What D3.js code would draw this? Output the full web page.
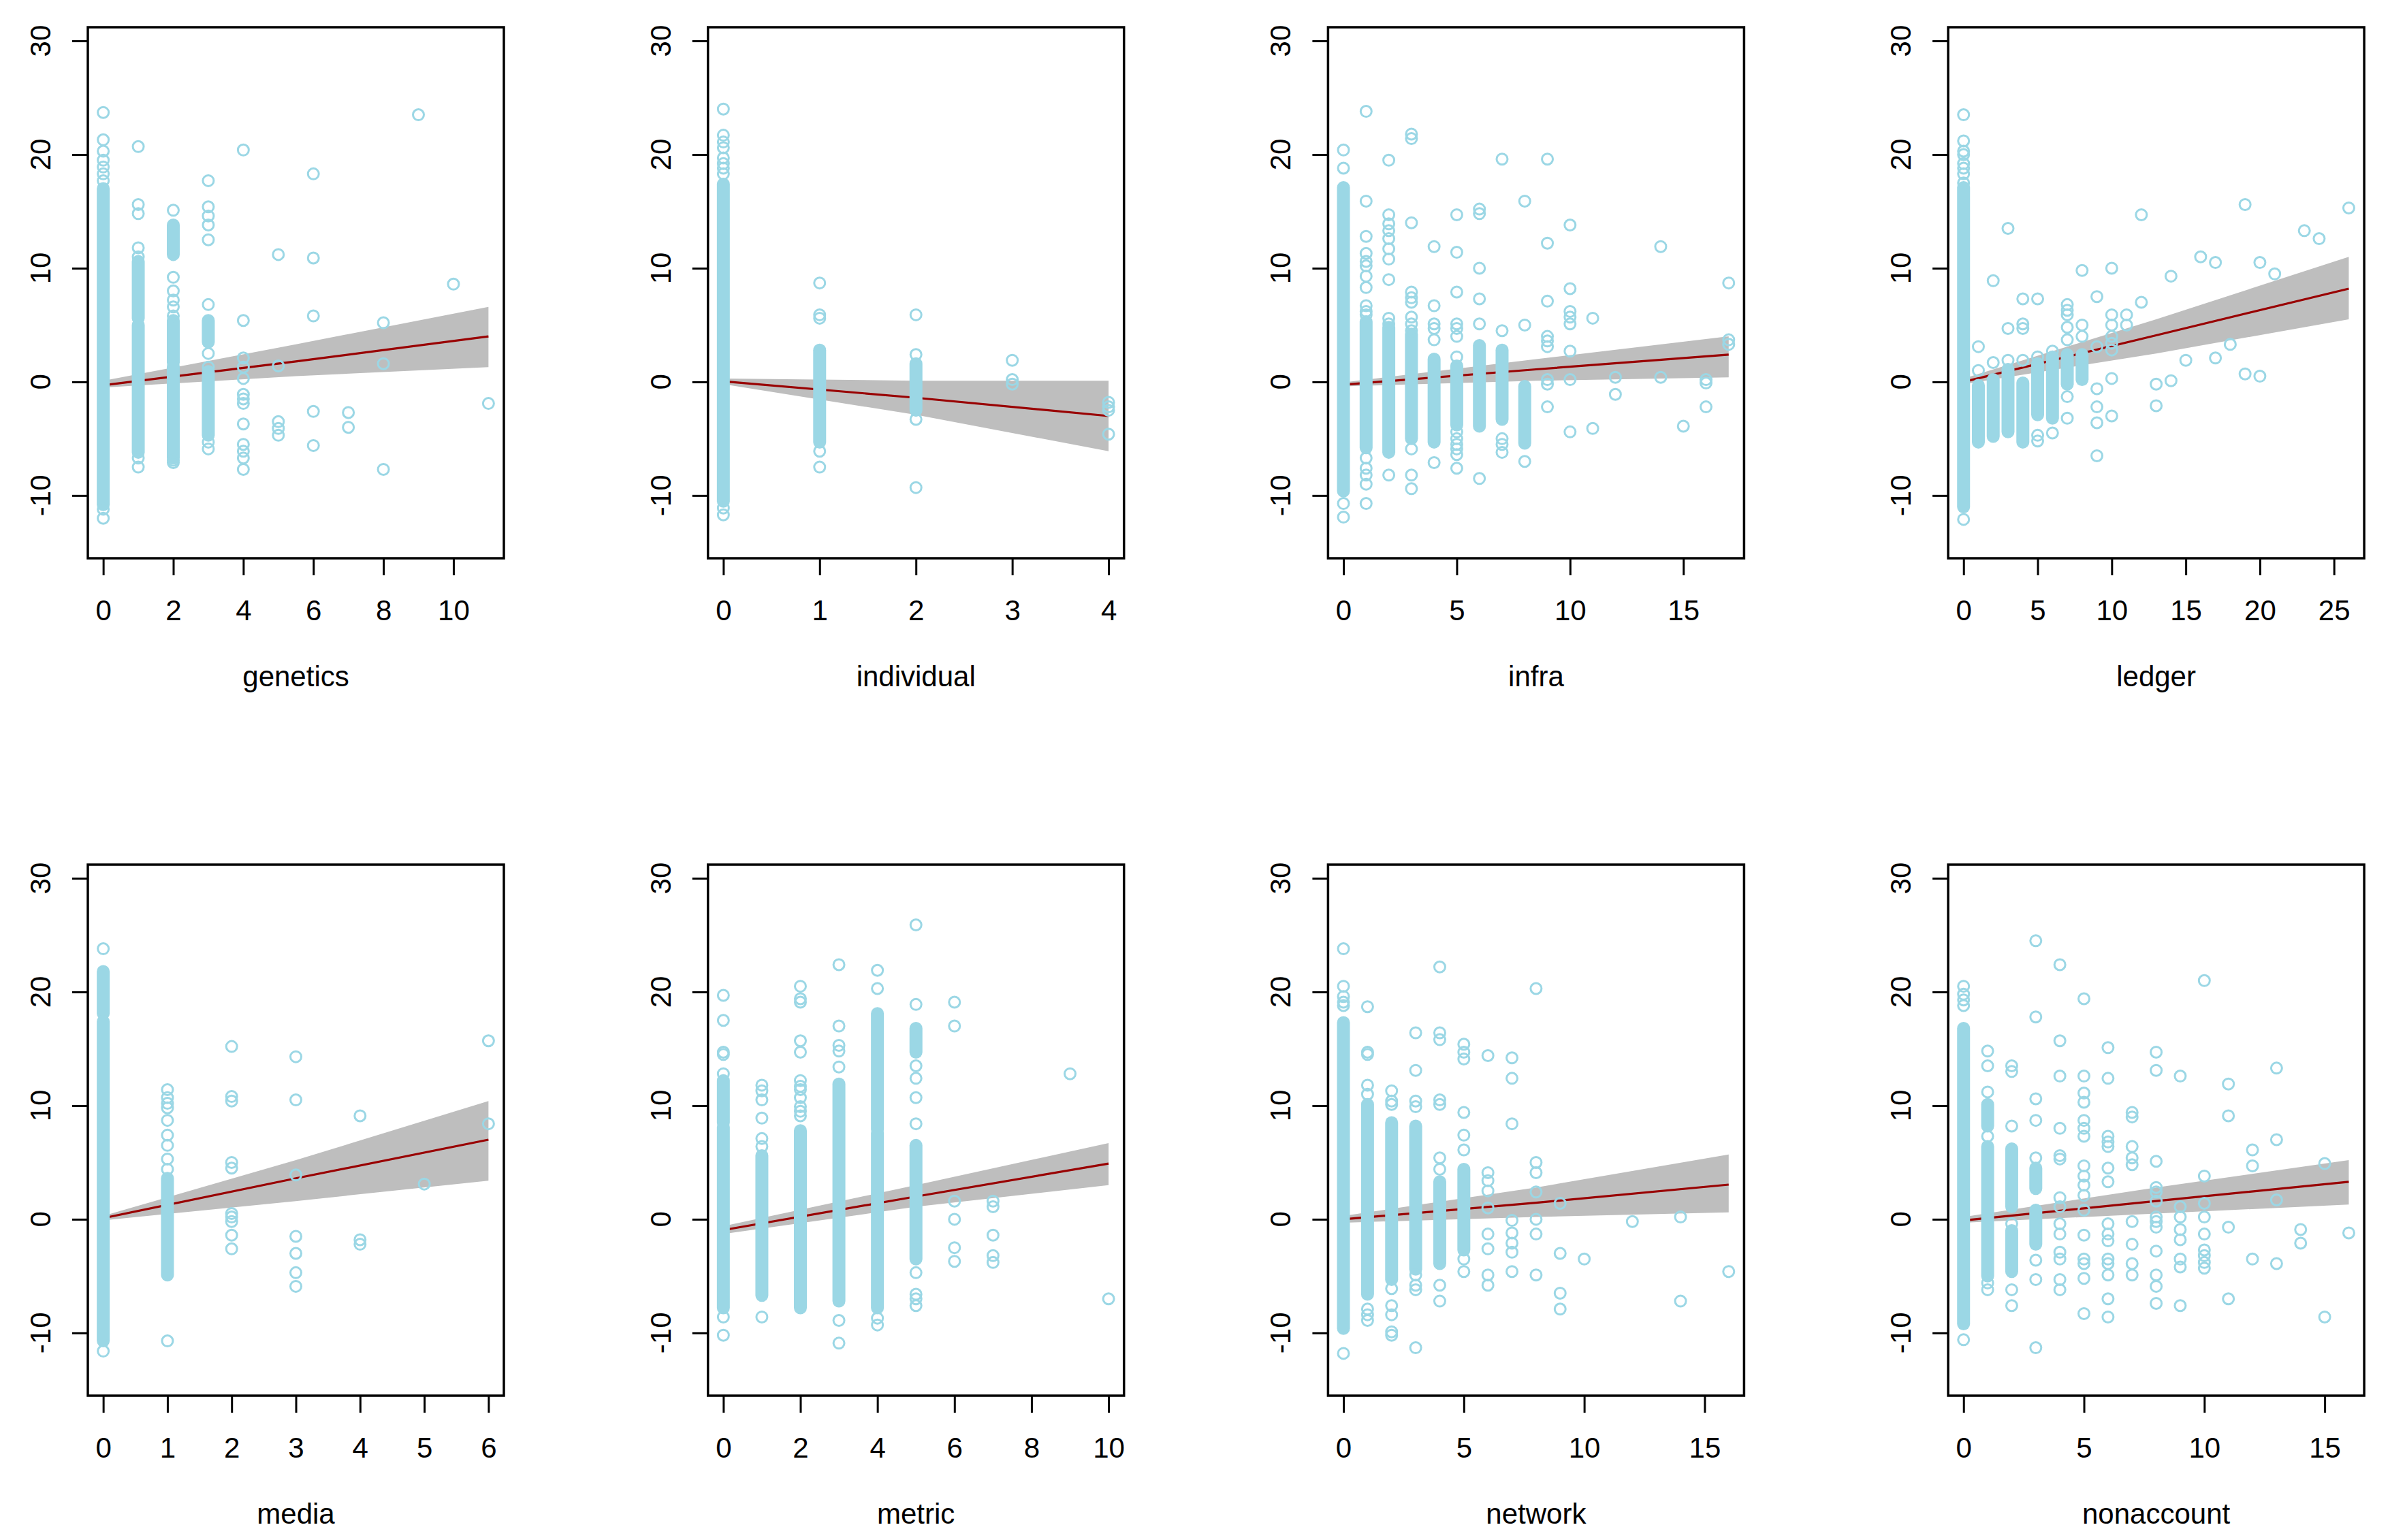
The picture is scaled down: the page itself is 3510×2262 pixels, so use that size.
<!DOCTYPE html>
<html>
<head>
<meta charset="utf-8">
<script src="https://cdn.jsdelivr.net/npm/d3@7"></script>
<style>
  body { margin: 0; background: #fff; }
  text { font-family: "Liberation Sans", Arial, sans-serif; }
</style>
</head>
<body>
<svg id="chart" width="3510" height="2262"></svg>
<script>
// panel order: left to right, top row first
var panelNames = ["genetics", "individual", "infra", "ledger", "media", "metric", "network", "nonaccount"];
var xMaxes = [11, 4, 17, 26, 6, 10, 16, 16];
var xTickSets = [
  [0, 2, 4, 6, 8, 10],
  [0, 1, 2, 3, 4],
  [0, 5, 10, 15],
  [0, 5, 10, 15, 20, 25],
  [0, 1, 2, 3, 4, 5, 6],
  [0, 2, 4, 6, 8, 10],
  [0, 5, 10, 15],
  [0, 5, 10, 15]
];
var yTickVals = [-10, 0, 10, 20, 30];

// fitted line and its band, read at three x positions per panel
var fitXs  = [[0, 5.5, 11], [0, 2, 4], [0, 8.5, 17], [0, 13, 26], [0, 3, 6], [0, 5, 10], [0, 8, 16], [0, 8, 16]];
var fitYs  = [[-0.3, 1.8, 4.0], [0.05, -1.4, -3.0], [-0.25, 1.1, 2.4], [0, 4.1, 8.2], [0.1, 3.6, 7.0], [-0.95, 2.0, 4.9], [0, 1.45, 3.05], [-0.1, 1.6, 3.3]];
var fitLos = [[-0.5, 0.5, 1.3], [-0.2, -2.9, -6.1], [-0.4, 0.1, 0.4], [-0.2, 2.5, 5.5], [-0.1, 1.6, 3.4], [-1.3, 1.1, 3.0], [-0.3, 0.2, 0.6], [-0.3, 0.5, 1.3]];
var fitHis = [[0.1, 3.3, 6.6], [0.3, 0.1, 0.1], [-0.05, 2.0, 4.0], [0.3, 5.5, 11.0], [0.3, 5.2, 10.4], [-0.6, 3.0, 6.7], [0.3, 2.8, 5.7], [0.2, 2.8, 5.2]];

// stretches where the circles pile up into a solid column: [x, top y, bottom y]
var runsByPanel = [
  [[0, 17.0, -10.8], [1, 10.6, 5.6], [1, 5.0, -6.2], [2, 13.8, 11.2], [2, 5.4, 1.7], [2, 1.3, -6.7], [3, 5.4, 3.5], [3, 0.9, -4.7]],
  [[0, 17.4, -10.5], [1, 2.8, -5.3], [2, 1.6, -2.5]],
  [[0, 17.1, -9.6], [1, 5.3, -5.8], [2, 4.8, -6.2], [3, 4.2, -5.0], [4, 2.0, -5.3], [5, 1.4, -3.8], [6, 3.2, -3.9], [7, 2.8, -3.3], [8, -0.4, -5.4]],
  [[0, 17.1, -11.0], [1, -0.3, -5.3], [2, 0.2, -4.8], [3, 1.1, -4.4], [4, -0.1, -5.3], [5, 1.6, -2.9], [6, 2.2, -3.2], [7, 2.4, -0.2], [8, 2.4, 0.2]],
  [[0, 21.8, 18.1], [0, 17.4, -10.7], [1, 3.6, -4.9]],
  [[0, 12.2, 8.5], [0, 8.1, -7.8], [1, 5.6, -6.7], [2, 7.8, -7.8], [3, 11.9, -7.2], [4, 18.1, 7.9], [4, 7.6, -7.8], [5, 16.8, 14.7], [5, 6.5, -3.5]],
  [[0, 17.3, -9.6], [1, 10.1, -6.6], [2, 8.5, -5.3], [3, 8.2, -4.4], [4, 3.3, -3.9], [5, 4.4, -2.7]],
  [[0, 16.8, -9.2], [1, 10.1, 8.2], [1, 6.4, -5.0], [2, 6.2, 1.1], [2, -1.0, -4.6], [3, 4.5, 2.7], [3, 0.8, -2.2]]
];

// separate circles: [x, [y values]]
var pointsByPanel = [
  [
    [0, [23.7, 21.3, 20.3, 19.5, 18.9, 18.3, 17.7, -11.2, -12.0]],
    [1, [20.7, 15.6, 14.8, 11.8, 11.0, -6.7, -7.5]],
    [2, [15.1, 9.2, 8.0, 7.2, 6.6, 5.8, -6.9, -7.1]],
    [3, [17.7, 15.4, 14.6, 13.8, 12.5, 6.8, 2.5, 1.3, -5.3, -5.9]],
    [4, [20.4, 5.4, 2.1, 1.3, 0.3, -1.1, -1.5, -1.9, -3.7, -5.5, -6.1, -6.7, -7.7]],
    [5, [11.2, 1.4, -3.5, -4.1, -4.7]],
    [6, [18.3, 10.9, 5.8, -2.6, -5.6]],
    [7, [-2.7, -4.0]],
    [8, [5.2, 1.6, -7.7]],
    [9, [23.5]],
    [10, [8.6]],
    [11, [-1.9]]
  ],
  [
    [0, [24.0, 21.7, 21.1, 20.6, 19.7, 19.2, 18.8, 18.3, -11.1, -11.7]],
    [1, [8.7, 5.9, 5.6, -6.1, -7.5]],
    [2, [5.9, 2.4, -3.3, -9.3]],
    [3, [1.9, 0.2, -0.2]],
    [4, [-1.8, -2.2, -2.5, -4.6]]
  ],
  [
    [0, [20.4, 18.8, -10.7, -11.9]],
    [1, [23.8, 15.9, 12.8, 11.3, 10.6, 10.2, 9.3, 8.3, 6.7, 6.2, 5.9, -6.7, -7.6, -8.2, -9.0, -10.7]],
    [2, [19.5, 14.7, 13.9, 13.3, 12.6, 11.7, 10.8, 9.0, 5.6, 5.1, -8.2]],
    [3, [21.8, 21.4, 14.0, 7.9, 7.4, 7.0, 5.7, 5.1, 4.5, -5.9, -8.2, -9.4]],
    [4, [11.9, 6.7, 5.1, 4.7, 3.7, -7.1]],
    [5, [14.7, 11.4, 7.9, 5.1, 4.7, 4.0, 2.2, -4.4, -5.0, -5.5, -5.9, -6.4, -7.6]],
    [6, [15.2, 14.8, 10.0, 7.3, 5.1, -8.5]],
    [7, [19.6, 4.5, -5.0, -5.5, -6.2]],
    [8, [15.9, 5.0, -7.0]],
    [9, [19.6, 12.2, 7.1, 4.0, 3.6, 3.1, 0.2, -0.2, -2.2]],
    [10, [13.8, 8.2, 6.2, 5.7, 5.1, 2.7, 0.2, -4.4]],
    [11, [5.6, -4.1]],
    [12, [0.4, -1.1]],
    [14, [11.9, 0.4]],
    [15, [-3.9]],
    [16, [0.2, -0.1, -2.2]],
    [17, [8.7, 3.7, 3.3]]
  ],
  [
    [0, [23.5, 21.2, 20.3, 20.0, 19.2, 18.8, 18.3, 17.5, -12.1]],
    [1, [3.1, 1.0]],
    [2, [8.9, 1.7]],
    [3, [13.5, 4.7, 1.9]],
    [4, [7.3, 5.1, 4.7, 1.9]],
    [5, [7.3, 2.2, -4.7, -5.2]],
    [6, [2.7, -4.5]],
    [7, [6.8, 6.3, 5.9, 4.8, 3.7, -1.3, -3.2]],
    [8, [9.8, 5.0, 4.0]],
    [9, [7.5, 3.1, -0.6, -2.2, -3.6, -6.5]],
    [10, [10.0, 5.9, 5.0, 4.0, 3.4, 2.8, 0.3, -3.0]],
    [11, [5.9, 5.0]],
    [12, [14.7, 7.0]],
    [13, [-0.2, -2.1]],
    [14, [9.3, 0.1]],
    [15, [1.9]],
    [16, [11.0]],
    [17, [10.5, 2.1]],
    [18, [3.3]],
    [19, [15.6, 0.7]],
    [20, [10.5, 0.5]],
    [21, [9.5]],
    [23, [13.3]],
    [24, [12.6]],
    [26, [15.3]]
  ],
  [
    [0, [23.8, -11.6]],
    [1, [11.4, 10.7, 10.2, 9.8, 8.7, 7.4, 6.5, 5.3, 4.4, -10.7]],
    [2, [15.2, 10.8, 10.4, 5.0, 4.5, 0.5, 0.2, -0.2, -1.4, -2.6]],
    [3, [14.3, 10.5, 3.9, -1.5, -3.0, -4.7, -5.9]],
    [4, [9.1, -1.8, -2.2]],
    [5, [3.1]],
    [6, [15.7, 8.4]]
  ],
  [
    [0, [19.7, 17.5, 14.7, 14.5, 12.8, -8.6, -10.2]],
    [1, [11.8, 11.3, 10.5, 8.9, 7.1, 6.4, -8.6]],
    [2, [20.5, 19.4, 19.1, 15.7, 14.7, 12.2, 11.7, 11.4, 10.7, 9.9, 9.5, 9.1]],
    [3, [22.4, 17.0, 15.3, 14.8, 13.4, -8.9, -10.9]],
    [4, [21.9, 20.3, -8.7, -9.3]],
    [5, [25.9, 18.9, 13.5, 12.4, 10.7, 8.4, -4.7, -6.6, -7.0, -7.6]],
    [6, [19.1, 17.0, 1.6, 0.0, -2.5, -3.7]],
    [7, [1.6, 1.1, -1.4, -3.2, -3.8]],
    [9, [12.8]],
    [10, [-7.0]]
  ],
  [
    [0, [23.8, 20.5, 19.6, 19.1, 18.8, -11.8]],
    [1, [18.7, 14.7, 14.5, 11.8, 11.0, -7.9, -8.4, -8.9]],
    [2, [11.3, 10.4, 10.1, -6.1, -7.6, -8.4, -9.9, -10.2]],
    [3, [16.4, 13.1, 10.4, 9.9, -4.9, -5.8, -6.2, -11.3]],
    [4, [22.2, 16.4, 15.8, 10.5, 10.1, 5.4, 4.4, -5.8, -7.2]],
    [5, [15.4, 14.7, 14.1, 9.4, 7.4, 6.1, -3.5, -4.6]],
    [6, [14.4, 4.1, 3.4, 2.5, 1.0, -1.3, -2.6, -4.9, -5.8]],
    [7, [14.2, 12.4, 8.4, -0.1, -1.2, -2.1, -2.9, -4.6]],
    [8, [20.3, 5.0, 4.1, 2.4, 0.0, -1.3, -4.9]],
    [9, [1.4, -3.0, -6.5, -7.9]],
    [10, [-3.5]],
    [12, [-0.2]],
    [14, [0.2, -7.2]],
    [16, [-4.6]]
  ],
  [
    [0, [20.5, 19.8, 19.3, 18.8, -10.6]],
    [1, [14.8, 13.5, 11.2, 7.3, -5.6, -6.2]],
    [2, [13.5, 13.0, 8.2, -0.4, -6.2, -7.6]],
    [3, [24.5, 17.8, 10.6, 8.7, 5.4, -3.6, -5.3, -11.3]],
    [4, [22.4, 15.7, 12.6, 8.0, 5.6, 5.3, 1.9, 1.1, -0.4, -1.3, -2.9, -3.5, -5.3, -6.2]],
    [5, [19.4, 12.6, 11.1, 10.3, 8.7, 8.0, 7.3, 4.7, 3.8, 3.0, 2.1, 0.8, -1.4, -3.5, -3.9, -5.2, -8.3]],
    [6, [15.1, 12.4, 7.3, 6.8, 6.4, 4.5, 3.3, -0.4, -1.3, -1.9, -3.5, -3.9, -4.9, -7.0, -8.6]],
    [7, [9.4, 9.0, 6.4, 5.4, 4.8, -0.2, -2.2, -3.9, -4.9]],
    [8, [14.7, 13.1, 5.1, 2.8, 2.4, 1.6, 0.2, -0.2, -0.7, -2.8, -4.9, -5.9, -7.4]],
    [9, [12.6, 1.1, 0.2, -0.9, -1.8, -3.5, -4.2, -7.6]],
    [10, [21.0, 3.8, 1.4, 0.2, -1.3, -2.7, -3.2, -3.8, -4.3]],
    [11, [11.9, 9.1, -0.7, -7.0]],
    [12, [6.1, 4.7, -3.5]],
    [13, [13.3, 7.0, 1.7, -3.9]],
    [14, [-0.9, -2.1]],
    [15, [4.9, -8.6]],
    [16, [-1.2]]
  ]
];

var svg = d3.select("#chart");
var boxW = 611, boxH = 780,
    left0 = 129, top0 = 40,
    colStep = 910.7, rowStep = 1230;
var ptColor = "#9BD7E5", bandColor = "#BEBEBE", lineColor = "#990000";

svg.append("rect").attr("width", 3510).attr("height", 2262).attr("fill", "#fff");

panelNames.forEach(function(name, i) {
  var col = i % 4, row = Math.floor(i / 4);
  var left = left0 + col * colStep, top = top0 + row * rowStep;
  var xmax = xMaxes[i];

  var x = d3.scaleLinear().domain([-0.04 * xmax, 1.04 * xmax]).range([left, left + boxW]);
  var y = d3.scaleLinear().domain([-15.52, 31.2]).range([top + boxH, top]);

  var g = svg.append("g").attr("class", "panel " + name);

  // confidence band
  var band = fitXs[i].map(function(v, k) { return {x: v, lo: fitLos[i][k], hi: fitHis[i][k]}; });
  g.append("path")
    .datum(band)
    .attr("fill", bandColor)
    .attr("d", d3.area()
      .x(function(d) { return x(d.x); })
      .y0(function(d) { return y(d.lo); })
      .y1(function(d) { return y(d.hi); }));

  // fitted line
  var fit = fitXs[i].map(function(v, k) { return {x: v, y: fitYs[i][k]}; });
  g.append("path")
    .datum(fit)
    .attr("fill", "none")
    .attr("stroke", lineColor)
    .attr("stroke-width", 3.2)
    .attr("d", d3.line()
      .x(function(d) { return x(d.x); })
      .y(function(d) { return y(d.y); }));

  // packed columns of circles
  g.selectAll(".run")
    .data(runsByPanel[i])
    .enter().append("rect")
      .attr("class", "run")
      .attr("x", function(d) { return x(d[0]) - 9.5; })
      .attr("y", function(d) { return y(d[1]) - 9.5; })
      .attr("width", 19)
      .attr("height", function(d) { return y(d[2]) - y(d[1]) + 19; })
      .attr("rx", 9.5)
      .attr("fill", ptColor);

  // single circles
  var pts = [];
  pointsByPanel[i].forEach(function(c) {
    c[1].forEach(function(v) { pts.push({x: c[0], y: v}); });
  });
  g.selectAll(".pt")
    .data(pts)
    .enter().append("circle")
      .attr("class", "pt")
      .attr("cx", function(d) { return x(d.x); })
      .attr("cy", function(d) { return y(d.y); })
      .attr("r", 8)
      .attr("fill", "none")
      .attr("stroke", ptColor)
      .attr("stroke-width", 3);

  // x axis
  var xa = g.append("g")
    .attr("transform", "translate(0," + (top + boxH) + ")")
    .call(d3.axisBottom(x).tickValues(xTickSets[i]).tickFormat(d3.format("d"))
      .tickSize(25).tickSizeOuter(0).tickPadding(36));
  xa.select(".domain").remove();
  xa.selectAll("line").attr("stroke", "#000").attr("stroke-width", 3);
  xa.selectAll("text").attr("font-size", 42).attr("fill", "#000")
    .style("font-family", "'Liberation Sans', Arial, sans-serif");

  // y axis, labels turned to run along the axis
  var ya = g.append("g")
    .attr("transform", "translate(" + left + ",0)")
    .call(d3.axisLeft(y).tickValues(yTickVals).tickSize(23).tickSizeOuter(0));
  ya.select(".domain").remove();
  ya.selectAll("line").attr("stroke", "#000").attr("stroke-width", 3);
  ya.selectAll("text").remove();
  g.selectAll(".ylab")
    .data(yTickVals)
    .enter().append("text")
      .attr("class", "ylab")
      .attr("transform", function(d) { return "translate(" + (left - 55) + "," + y(d) + ") rotate(-90)"; })
      .attr("text-anchor", "middle")
      .attr("font-size", 42)
      .text(function(d) { return d; });

  // frame
  g.append("rect")
    .attr("x", left).attr("y", top)
    .attr("width", boxW).attr("height", boxH)
    .attr("fill", "none")
    .attr("stroke", "#000")
    .attr("stroke-width", 3.5);

  // axis title
  g.append("text")
    .attr("x", left + boxW / 2)
    .attr("y", top + boxH + 188)
    .attr("text-anchor", "middle")
    .attr("font-size", 42)
    .text(name);
});
</script>
</body>
</html>
